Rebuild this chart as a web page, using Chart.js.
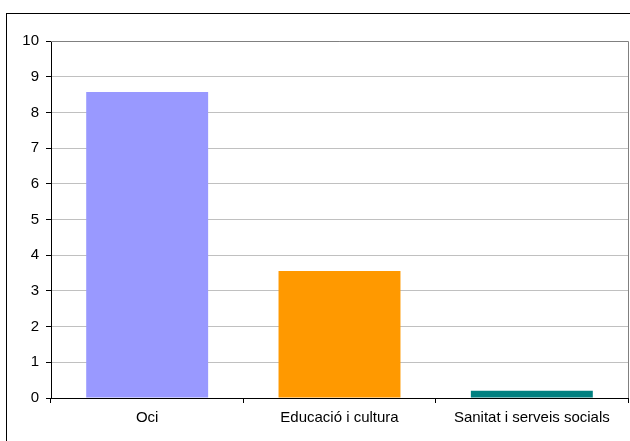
<!DOCTYPE html>
<html>
<head>
<meta charset="utf-8">
<script src="https://cdn.jsdelivr.net/npm/chart.js@4/dist/chart.umd.min.js"></script>
<style>
html,body{margin:0;padding:0;background:#fff;}
#wrap{position:relative;width:630px;height:441px;overflow:hidden;}
#frame{position:absolute;left:6px;top:13px;width:700px;height:500px;border-left:1px solid #000;border-top:1px solid #000;pointer-events:none;}
canvas{position:absolute;left:0;top:0;}
</style>
</head>
<body>
<div id="wrap">
<canvas id="c" width="630" height="441"></canvas>
<div id="frame"></div>
</div>
<script>
const categories = ["Oci", "Educació i cultura", "Sanitat i serveis socials"];
const values = [8.57, 3.56, 0.2];
const barColors = ["#9999FF", "#FF9900", "#008080"];
const yTicks = [0,1,2,3,4,5,6,7,8,9,10];

const plotFrame = {
  id: 'plotFrame',
  beforeDatasetsDraw(chart) {
    const a = chart.chartArea, ctx = chart.ctx;
    ctx.save();
    ctx.strokeStyle = '#808080';
    ctx.lineWidth = 1;
    ctx.beginPath();
    ctx.moveTo(a.left, Math.round(a.top) + 0.5);
    ctx.lineTo(Math.round(a.right) + 0.5, Math.round(a.top) + 0.5);
    ctx.lineTo(Math.round(a.right) + 0.5, a.bottom);
    ctx.stroke();
    ctx.restore();
  }
};

const FONT = { family: 'Liberation Sans, Arial, sans-serif', size: 15 };

new Chart(document.getElementById('c'), {
  type: 'bar',
  data: {
    labels: categories,
    datasets: [{
      data: values,
      backgroundColor: barColors,
      borderWidth: 0,
      categoryPercentage: 1,
      barPercentage: 0.634
    }]
  },
  options: {
    responsive: false,
    animation: false,
    events: [],
    layout: { padding: { left: 0, top: 41, right: 2, bottom: 0 } },
    plugins: { legend: { display: false }, tooltip: { enabled: false }, title: { display: false } },
    scales: {
      x: {
        offset: true,
        grid: { display: true, offset: true, drawOnChartArea: false, tickLength: 5, tickColor: '#000', color: '#000' },
        border: { display: true, color: '#000', width: 1 },
        ticks: { color: '#000', font: FONT, padding: 6, maxRotation: 0, autoSkip: false },
        afterFit(scale) { scale.height = 43; }
      },
      y: {
        min: 0, max: 10,
        afterBuildTicks(scale) { scale.ticks = yTicks.map(v => ({ value: v })); },
        grid: {
          color: ctx => (ctx.tick && ctx.tick.value === 0) ? '#000' : '#c0c0c0',
          tickColor: '#000', tickLength: 5, lineWidth: 1
        },
        border: { display: true, color: '#000', width: 1 },
        ticks: { color: '#000', font: FONT, padding: 7 },
        afterFit(scale) { scale.width = 51; }
      }
    }
  },
  plugins: [plotFrame]
});
</script>
</body>
</html>
